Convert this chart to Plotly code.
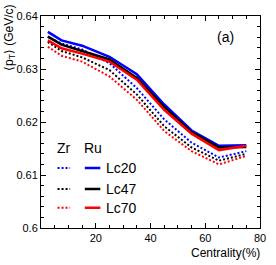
import plotly.graph_objects as go

centrality = [2.5, 7.5, 15, 25, 35, 45, 55, 65, 75]

ru_lc20 = [0.6370, 0.6354, 0.6344, 0.6323, 0.6290, 0.6233, 0.6184, 0.6155, 0.6156]
ru_lc47 = [0.6361, 0.6346, 0.6334, 0.6318, 0.6283, 0.6228, 0.6181, 0.6152, 0.6153]
ru_lc70 = [0.6354, 0.6339, 0.6329, 0.6314, 0.6280, 0.6223, 0.6178, 0.6147, 0.6155]

zr_lc20 = [0.6361, 0.6348, 0.6337, 0.6311, 0.6264, 0.6205, 0.6161, 0.6133, 0.6145]
zr_lc47 = [0.6351, 0.6334, 0.6322, 0.6298, 0.6252, 0.6192, 0.6152, 0.6127, 0.6140]
zr_lc70 = [0.6342, 0.6325, 0.6314, 0.6286, 0.6242, 0.6183, 0.6145, 0.6120, 0.6136]

labels = ["Lc20", "Lc47", "Lc70"]
colors = ["#0000ff", "#000000", "#ff0000"]

DOT = "2px,2px"

fig = go.Figure()
for ys, c in zip([zr_lc20, zr_lc47, zr_lc70], colors):
    fig.add_trace(go.Scatter(x=centrality, y=ys, mode="lines",
                             line=dict(color=c, width=2, dash=DOT), showlegend=False))
for ys, c in zip([ru_lc20, ru_lc47, ru_lc70], colors):
    fig.add_trace(go.Scatter(x=centrality, y=ys, mode="lines",
                             line=dict(color=c, width=2.5), showlegend=False))

font = dict(family="Liberation Sans, Arial, sans-serif", color="#000000")

shapes = []
annotations = []
row_y = [0.283, 0.184, 0.0955]
for lab, c, yy in zip(labels, colors, row_y):
    shapes.append(dict(type="line", xref="paper", yref="paper", x0=0.0756, x1=0.133, y0=yy, y1=yy,
                       line=dict(color=c, width=2, dash=DOT)))
    shapes.append(dict(type="line", xref="paper", yref="paper", x0=0.2, x1=0.271, y0=yy, y1=yy,
                       line=dict(color=c, width=2.5)))
    annotations.append(dict(text=lab, xref="paper", yref="paper", x=0.289, y=yy, xanchor="left",
                            yanchor="middle", showarrow=False, font=dict(size=14, **font)))
annotations.append(dict(text="Zr", xref="paper", yref="paper", x=0.104, y=0.376, xanchor="center",
                        yanchor="middle", showarrow=False, font=dict(size=14, **font)))
annotations.append(dict(text="Ru", xref="paper", yref="paper", x=0.238, y=0.376, xanchor="center",
                        yanchor="middle", showarrow=False, font=dict(size=14, **font)))
annotations.append(dict(text="(a)", xref="paper", yref="paper", x=0.842, y=0.902, xanchor="center",
                        yanchor="middle", showarrow=False, font=dict(size=14, **font)))
annotations.append(dict(text="Centrality(%)", xref="paper", yref="paper", x=1.009, y=-0.118,
                        xanchor="right", yanchor="middle", showarrow=False, font=dict(size=12, **font)))
annotations.append(dict(text="⟨p<sub>T</sub>⟩ (GeV/c)", xref="paper", yref="paper", x=-0.145, y=1.063,
                        xanchor="center", yanchor="top", textangle=-90, showarrow=False,
                        font=dict(size=12, **font)))

axis_common = dict(showgrid=False, zeroline=False, showline=True, linecolor="#000000", linewidth=1,
                   mirror="allticks", ticks="inside", ticklen=5, tickcolor="#000000",
                   tickfont=dict(size=11, **font))

fig.update_layout(
    width=276, height=265,
    margin=dict(l=41, r=10, t=14, b=37),
    paper_bgcolor="#ffffff", plot_bgcolor="#ffffff",
    xaxis=dict(range=[0, 80], tickvals=[20, 40, 60, 80],
               minor=dict(dtick=5, tick0=0, ticks="inside", ticklen=3, tickcolor="#000000"),
               **axis_common),
    yaxis=dict(range=[0.6, 0.64], tickvals=[0.6, 0.61, 0.62, 0.63, 0.64],
               ticktext=["0.6", "0.61", "0.62", "0.63", "0.64"],
               minor=dict(dtick=0.002, tick0=0.6, ticks="inside", ticklen=3, tickcolor="#000000"),
               **axis_common),
    shapes=shapes,
    annotations=annotations,
)

fig.write_html("out.html", config={"displayModeBar": False})

# remove default browser body margin so the figure sits at the page origin
with open("out.html", "r", encoding="utf-8") as f:
    html = f.read()
html = html.replace("<head>", "<head><style>html,body{margin:0;padding:0;overflow:hidden;}</style>", 1)
with open("out.html", "w", encoding="utf-8") as f:
    f.write(html)
